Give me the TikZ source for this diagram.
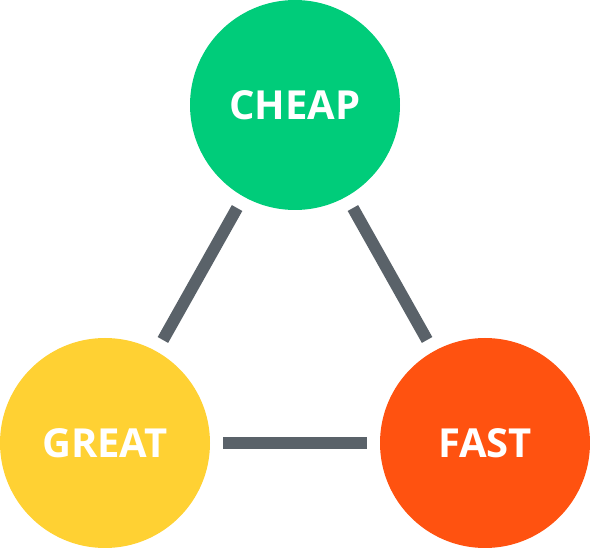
\documentclass[tikz,border=0pt]{standalone}
\usepackage{fontspec}
\setmainfont{Open Sans}
\definecolor{cheapgreen}{HTML}{00CC7A}
\definecolor{greatyellow}{HTML}{FFD133}
\definecolor{fastorange}{HTML}{FF5210}
\definecolor{linkgray}{HTML}{5A6269}
\begin{document}
\begin{tikzpicture}[x=1pt, y=-1pt,
  corner/.style={circle, inner sep=0pt, minimum size=210pt, text=white,
    font=\fontsize{40}{42}\selectfont\bfseries},
  link/.style={draw=linkgray, line width=12pt, shorten <=13pt, shorten >=13pt}]
  \useasboundingbox (0,0) rectangle (590,548);
  \node [corner, fill=cheapgreen] (cheap) at (295,105) {CHEAP};
  \node [corner, fill=greatyellow] (great) at (105,443) {GREAT};
  \node [corner, fill=fastorange] (fast) at (485,443) {FAST};
  \draw [link] (cheap) -- (great);
  \draw [link] (cheap) -- (fast);
  \draw [link] (great) -- (fast);
\end{tikzpicture}
\end{document}
